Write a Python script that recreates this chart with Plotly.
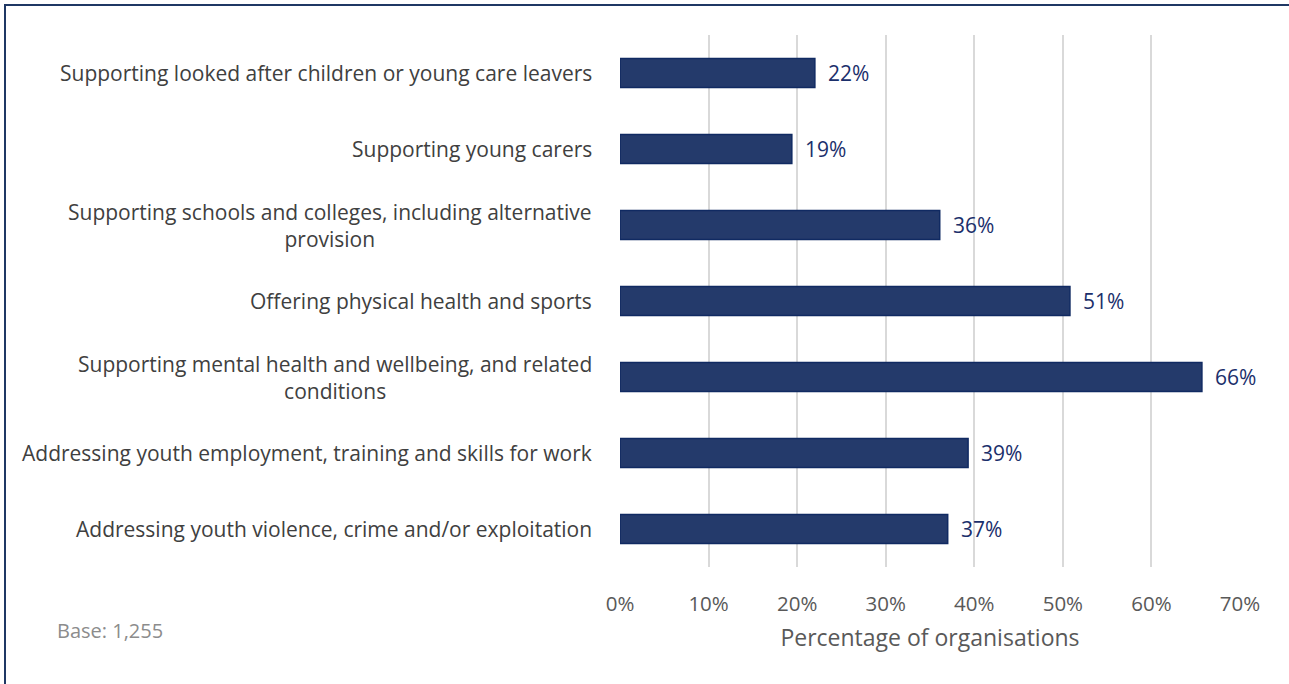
import plotly.graph_objects as go

# Activity areas (top to bottom) and share of organisations (%)
categories = [
    "Supporting looked after children or young care leavers",
    "Supporting young carers",
    "Supporting schools and colleges, including alternative<br>provision",
    "Offering physical health and sports",
    "Supporting mental health and wellbeing, and related<br>conditions",
    "Addressing youth employment, training and skills for work",
    "Addressing youth violence, crime and/or exploitation",
]
values = [22.0, 19.4, 36.1, 50.8, 65.7, 39.3, 37.0]
x_ticks = [0, 10, 20, 30, 40, 50, 60, 70]
x_tick_labels = [f"{t}%" for t in x_ticks]

FONT = "Open Sans"
NAVY = "#243A6B"
NAVY_EDGE = "#102A62"
LABEL_NAVY = "#1B2F6B"

# reverse so first category sits at top
cats_plot = categories[::-1]
vals_plot = values[::-1]

fig = go.Figure(
    go.Bar(
        x=vals_plot,
        y=cats_plot,
        orientation="h",
        width=0.38,
        marker=dict(color=NAVY, line=dict(color=NAVY_EDGE, width=1.5)),
        hoverinfo="skip",
    )
)

annotations = []
# category labels (centred lines, right edge aligned near axis)
for c in cats_plot:
    annotations.append(dict(
        x=0, y=c, xref="paper", yref="y", text=c, showarrow=False,
        xanchor="right", yanchor="middle", align="center", xshift=-26,
        font=dict(family=FONT, size=21, color="#404040"),
    ))
# value labels
for c, v in zip(cats_plot, vals_plot):
    annotations.append(dict(
        x=v, y=c, xref="x", yref="y", text=f"{v:.0f}%", showarrow=False,
        xanchor="left", yanchor="middle", xshift=11,
        font=dict(family=FONT, size=21, color=LABEL_NAVY),
    ))
# base note
annotations.append(dict(
    x=(55 - 620) / 620, y=(567 - 630) / 532, xref="paper", yref="paper",
    text="Base: 1,255", showarrow=False, xanchor="left", yanchor="middle",
    font=dict(family=FONT, size=20, color="#8C8C8C"),
))

fig.update_layout(
    width=1289, height=684,
    margin=dict(l=620, r=49, t=35, b=117),
    paper_bgcolor="white", plot_bgcolor="white",
    showlegend=False,
    annotations=annotations,
    xaxis=dict(
        range=[0, 70], tickvals=x_ticks, ticktext=x_tick_labels,
        showgrid=True, gridcolor="#D9D9D9", gridwidth=2,
        zeroline=False, showline=False, ticks="",
        tickfont=dict(family=FONT, size=20.5, color="#595959"),
        ticklabelstandoff=22,
        title=dict(text="Percentage of organisations", standoff=14,
                   font=dict(family=FONT, size=23, color="#595959")),
        fixedrange=True,
    ),
    yaxis=dict(showticklabels=False, showgrid=False, zeroline=False,
               range=[-0.5, 6.5], fixedrange=True),
    shapes=[dict(
        type="rect", xref="paper", yref="paper",
        x0=(5 - 620) / 620, x1=(1300 - 620) / 620,
        y0=(567 - 700) / 532, y1=(567 - 5) / 532,
        line=dict(color="#1F3864", width=2), fillcolor="rgba(0,0,0,0)",
        layer="below",
    )],
)

fig.write_html("out.html", config={"displayModeBar": False})
